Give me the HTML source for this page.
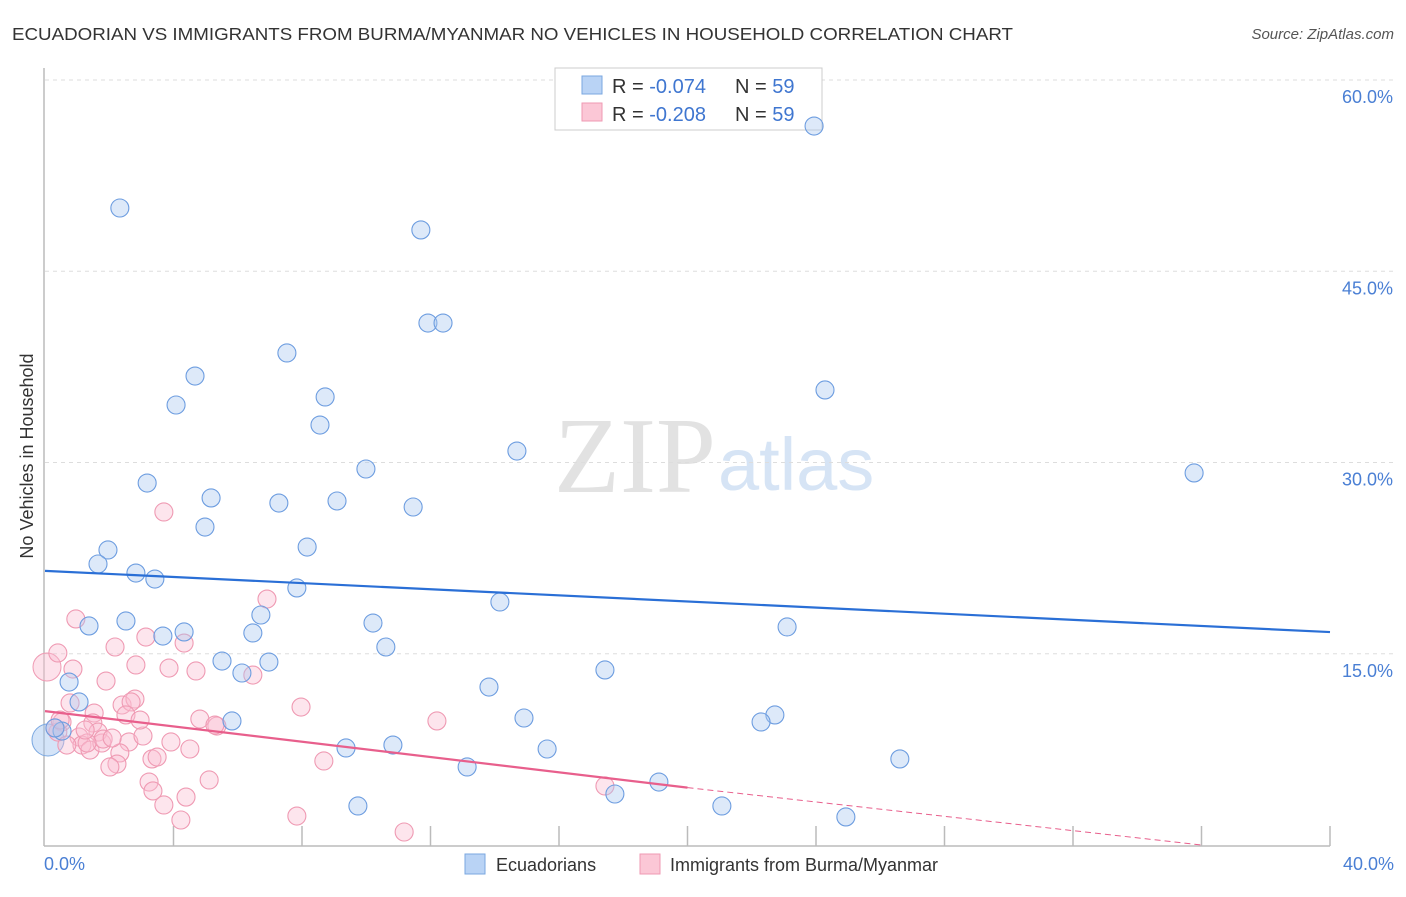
<!DOCTYPE html>
<html><head><meta charset="utf-8"><style>
body{margin:0;background:#fff;font-family:"Liberation Sans",sans-serif}
</style></head><body>
<svg width="1406" height="892" xmlns="http://www.w3.org/2000/svg">
<text x="12" y="40" font-size="17.5" fill="#333" textLength="1001" lengthAdjust="spacingAndGlyphs">ECUADORIAN VS IMMIGRANTS FROM BURMA/MYANMAR NO VEHICLES IN HOUSEHOLD CORRELATION CHART</text>
<text x="1394" y="39" font-size="15" fill="#555" font-style="italic" text-anchor="end">Source: ZipAtlas.com</text>
<text x="716" y="492" font-size="108" font-family="Liberation Serif" fill="#e2e2e2" text-anchor="end">ZIP</text>
<text x="718" y="490" font-size="74" fill="#d6e4f5">atlas</text>
<g id="grid"></g>
<g id="axes"></g>
<g>
<rect x="555" y="68" width="267" height="62" fill="#fff" stroke="#ccc"/>
<rect x="582" y="76" width="20" height="18" fill="#b9d3f5" stroke="#7aa7e0"/>
<rect x="582" y="103" width="20" height="18" fill="#fbc7d6" stroke="#ef9ab3"/>
<text x="612" y="93" font-size="20" fill="#333">R = <tspan fill="#3f76d0">-0.074</tspan><tspan x="735">N = </tspan><tspan fill="#3f76d0">59</tspan></text>
<text x="612" y="121" font-size="20" fill="#333">R = <tspan fill="#3f76d0">-0.208</tspan><tspan x="735">N = </tspan><tspan fill="#3f76d0">59</tspan></text>
</g>
<g id="pts"></g>
<g id="lines"></g>
<text x="33" y="456" font-size="18" fill="#333" text-anchor="middle" transform="rotate(-90 33 456)">No Vehicles in Household</text>
<text x="44" y="870" font-size="18" fill="#4a7fd4">0.0%</text>
<text x="1394" y="870" font-size="18" fill="#4a7fd4" text-anchor="end">40.0%</text>
<g>
<rect x="465" y="854" width="20" height="20" fill="#b9d3f5" stroke="#7aa7e0"/>
<text x="496" y="871" font-size="18" fill="#333">Ecuadorians</text>
<rect x="640" y="854" width="20" height="20" fill="#fbc7d6" stroke="#ef9ab3"/>
<text x="670" y="871" font-size="18" fill="#333">Immigrants from Burma/Myanmar</text>
</g>
</svg>
<script>
const yTicks=[15,30,45,60];
const yTickLabels=["15.0%","30.0%","45.0%","60.0%"];
const xTicks=[4,8,12,16,20,24,28,32,36,40];
const bluePx=[[814,126],[120,208],[421,230],[428,323],[443,323],[287,353],[195,376],[825,390],[176,405],[325,397],[320,425],[517,451],[366,469],[1194,473],[147,483],[211,498],[279,503],[337,501],[413,507],[205,527],[108,550],[307,547],[98,564],[136,573],[155,579],[297,588],[500,602],[126,621],[89,626],[261,615],[373,623],[787,627],[184,632],[163,636],[253,633],[386,647],[222,661],[269,662],[605,670],[242,673],[69,682],[489,687],[79,702],[775,715],[524,718],[761,722],[232,721],[62,731],[346,748],[393,745],[547,749],[900,759],[467,767],[659,782],[615,794],[358,806],[722,806],[846,817],[55,728]];
const pinkPx=[[76,619],[58,653],[73,669],[106,681],[115,647],[146,637],[184,643],[136,665],[169,668],[196,671],[253,675],[267,599],[70,703],[122,705],[135,699],[131,702],[126,715],[94,713],[93,723],[62,722],[58,732],[98,732],[79,737],[82,745],[90,750],[102,743],[103,739],[129,742],[143,736],[171,742],[190,749],[200,719],[217,726],[120,753],[117,764],[110,767],[152,759],[157,757],[301,707],[324,761],[209,780],[149,782],[153,791],[164,805],[186,797],[181,820],[297,816],[404,832],[67,745],[87,743],[55,728],[164,512],[437,721],[605,786],[215,725],[112,738],[140,720],[60,720],[85,730]];
const blueX=bluePx.map(p=>+((p[0]-45)/32.125).toFixed(2)), blueY=bluePx.map(p=>+((845-p[1])/12.75).toFixed(2));
const pinkX=pinkPx.map(p=>+((p[0]-45)/32.125).toFixed(2)), pinkY=pinkPx.map(p=>+((845-p[1])/12.75).toFixed(2));
const blueLine=[[0,21.5],[40,16.7]];
const pinkLine=[[0,10.5],[20,4.5],[36,0]];
const X=v=>45+v*32.125, Y=v=>845-v*12.75;
const NS="http://www.w3.org/2000/svg";
function mk(t,a,p){const e=document.createElementNS(NS,t);for(const k in a)e.setAttribute(k,a[k]);document.getElementById(p).appendChild(e);return e;}
yTicks.forEach((t,i)=>{
 const l=mk('line',{x1:45,x2:1394,y1:Y(t),y2:Y(t),stroke:'#ddd','stroke-dasharray':'4,4'},'grid');
 
 
 const tx=mk('text',{x:1393,y:Y(t)+23,'font-size':18,fill:'#4a7fd4','text-anchor':'end'},'grid');
 tx.textContent=yTickLabels[i];
 
 
});
const ax=mk('line',{x1:44,x2:44,y1:68,y2:846,stroke:'#bbb','stroke-width':1.5},'axes');


const bx=mk('line',{x1:44,x2:1330,y1:846,y2:846,stroke:'#bbb','stroke-width':1.5},'axes');


xTicks.forEach(t=>{const l=mk('line',{x1:X(t),x2:X(t),y1:826,y2:846,stroke:'#bbb','stroke-width':1.5},'axes');
 
 });
const big=mk('circle',{cx:48,cy:740,r:16,fill:'rgba(160,195,240,0.45)',stroke:'#7aa7e0'},'pts');


const bigp=mk('circle',{cx:47,cy:667,r:14,fill:'rgba(250,190,210,0.45)',stroke:'#ef9ab3'},'pts');


pinkX.forEach((x,i)=>{const c=mk('circle',{cx:X(x),cy:Y(pinkY[i]),r:9,fill:'rgba(250,190,210,0.4)',stroke:'#ef9ab3','stroke-width':1.1},'pts');
 
 });
blueX.forEach((x,i)=>{const c=mk('circle',{cx:X(x),cy:Y(blueY[i]),r:9,fill:'rgba(170,200,240,0.4)',stroke:'#6d9de0','stroke-width':1.1},'pts');
 
 });
const bl=mk('line',{x1:X(blueLine[0][0]),y1:Y(blueLine[0][1]),x2:X(blueLine[1][0]),y2:Y(blueLine[1][1]),stroke:'#2a6fd6','stroke-width':2.2},'lines');


const pl=mk('line',{x1:X(pinkLine[0][0]),y1:Y(pinkLine[0][1]),x2:X(pinkLine[1][0]),y2:Y(pinkLine[1][1]),stroke:'#e85f8c','stroke-width':2.2},'lines');


const pd=mk('line',{x1:X(pinkLine[1][0]),y1:Y(pinkLine[1][1]),x2:X(pinkLine[2][0]),y2:Y(pinkLine[2][1]),stroke:'#e85f8c','stroke-width':1,'stroke-dasharray':'6,4'},'lines');


</script>
</body></html>
